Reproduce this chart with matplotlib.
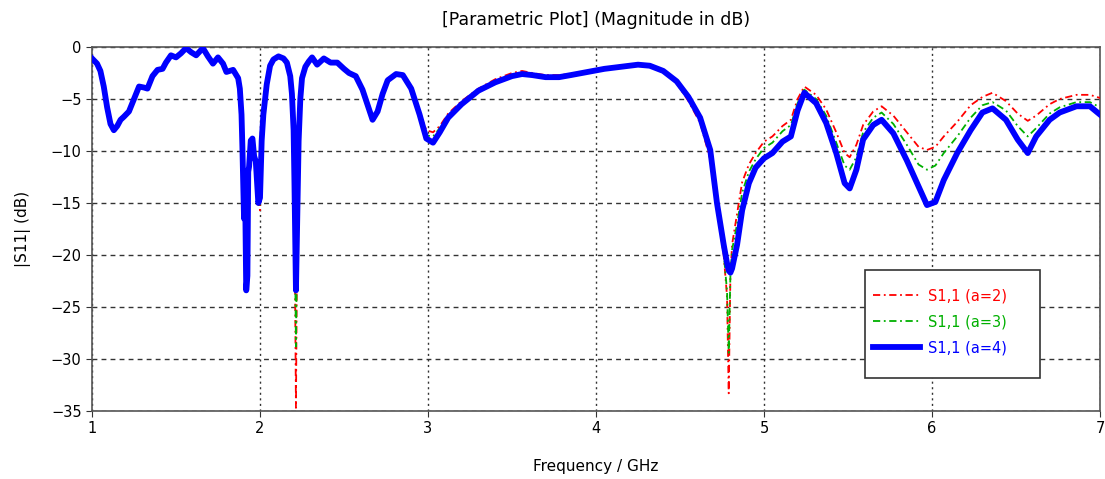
import matplotlib
matplotlib.use("Agg")
import matplotlib.pyplot as plt
from matplotlib.patches import Rectangle

freq = [1.00, 1.03, 1.05, 1.07, 1.09, 1.11, 1.13, 1.15, 1.17, 1.19,
        1.22, 1.25, 1.28, 1.31, 1.33, 1.36, 1.39, 1.42, 1.44, 1.47,
        1.50, 1.53, 1.56, 1.59, 1.62, 1.66, 1.69, 1.72, 1.75, 1.78,
        1.80, 1.84, 1.87, 1.88, 1.89, 1.895, 1.905, 1.91, 1.918, 1.925,
        1.93, 1.935, 1.945, 1.955, 1.965, 1.975, 1.99, 2.00, 2.01, 2.02,
        2.04, 2.06, 2.08, 2.11, 2.14, 2.16, 2.18, 2.19, 2.20, 2.205,
        2.214, 2.222, 2.23, 2.24, 2.25, 2.27, 2.29, 2.31, 2.34, 2.38,
        2.42, 2.46, 2.50, 2.53, 2.57, 2.61, 2.645, 2.67, 2.70, 2.73,
        2.76, 2.81, 2.85, 2.90, 2.95, 2.99, 3.03, 3.07, 3.12, 3.20,
        3.30, 3.40, 3.50, 3.56, 3.62, 3.70, 3.78, 3.85, 3.95, 4.05,
        4.15, 4.25, 4.32, 4.40, 4.48, 4.55, 4.62, 4.68, 4.72, 4.76,
        4.78, 4.79, 4.80, 4.81, 4.84, 4.87, 4.91, 4.95, 5.00, 5.05,
        5.11, 5.16, 5.20, 5.24, 5.31, 5.37, 5.43, 5.48, 5.51, 5.55,
        5.59, 5.65, 5.70, 5.77, 5.85, 5.92, 5.97, 6.02, 6.07, 6.15,
        6.23, 6.30, 6.36, 6.44, 6.51, 6.57, 6.62, 6.70, 6.76, 6.86,
        6.94, 7.00]

s11_a4 = [-1.1, -1.6, -2.3, -3.8, -5.8, -7.4, -8.0, -7.6, -7.0, -6.7,
          -6.2, -5.0, -3.8, -3.9, -4.0, -2.8, -2.2, -2.1, -1.5, -0.8,
          -1.0, -0.6, -0.1, -0.5, -0.8, -0.1, -0.9, -1.6, -1.0, -1.6,
          -2.4, -2.2, -3.0, -4.0, -6.5, -9.5, -16.5, -12.0, -23.4, -22.0,
          -12.0, -11.5, -9.0, -8.8, -10.5, -11.0, -15.0, -14.5, -9.0, -6.5,
          -3.6, -1.8, -1.2, -0.9, -1.1, -1.5, -2.8, -4.5, -8.0, -13.0,
          -23.4, -16.0, -9.0, -5.0, -3.0, -1.9, -1.4, -1.0, -1.7, -1.1,
          -1.5, -1.5, -2.1, -2.5, -2.8, -4.1, -5.8, -7.0, -6.2, -4.5,
          -3.2, -2.6, -2.7, -4.0, -6.5, -8.8, -9.2, -8.2, -6.8, -5.5,
          -4.2, -3.4, -2.8, -2.6, -2.7, -2.9, -2.9, -2.7, -2.4, -2.1,
          -1.9, -1.7, -1.8, -2.3, -3.3, -4.8, -6.8, -9.9, -15.0, -19.0,
          -20.8, -21.5, -21.7, -21.3, -19.0, -15.7, -13.1, -11.6, -10.7, -10.2,
          -9.1, -8.6, -6.1, -4.4, -5.4, -7.3, -10.2, -13.1, -13.6, -11.8,
          -8.9, -7.5, -7.0, -8.3, -10.9, -13.4, -15.2, -14.9, -12.8, -10.2,
          -8.0, -6.3, -5.9, -7.0, -8.9, -10.2, -8.6, -7.0, -6.3, -5.7,
          -5.7, -6.5]

s11_a3 = [-1.1, -1.6, -2.3, -3.8, -5.8, -7.4, -7.9, -7.5, -6.9, -6.6,
          -6.2, -5.0, -3.8, -3.9, -4.0, -2.8, -2.2, -2.1, -1.5, -0.8,
          -1.0, -0.6, -0.1, -0.5, -0.8, -0.1, -0.9, -1.6, -1.0, -1.6,
          -2.4, -2.2, -3.0, -4.0, -6.5, -9.5, -16.5, -12.0, -23.4, -22.0,
          -12.0, -11.5, -9.0, -8.8, -10.5, -11.0, -15.0, -15.3, -9.0, -6.5,
          -3.6, -1.8, -1.2, -0.9, -1.1, -1.5, -2.8, -4.5, -8.0, -14.0,
          -28.8, -16.0, -9.0, -5.0, -3.0, -1.9, -1.4, -1.0, -1.7, -1.1,
          -1.5, -1.5, -2.1, -2.5, -2.8, -4.1, -5.8, -7.0, -6.2, -4.5,
          -3.2, -2.6, -2.7, -4.0, -6.4, -8.5, -8.6, -7.8, -6.6, -5.4,
          -4.1, -3.3, -2.7, -2.5, -2.6, -2.8, -2.8, -2.7, -2.4, -2.1,
          -1.9, -1.7, -1.8, -2.3, -3.4, -5.0, -7.1, -10.5, -15.3, -19.8,
          -23.5, -29.4, -22.0, -19.5, -17.0, -14.0, -12.0, -10.8, -9.7, -9.2,
          -8.1, -7.5, -5.4, -4.1, -5.0, -6.6, -9.2, -11.4, -11.8, -10.6,
          -8.2, -6.8, -6.3, -7.4, -9.4, -11.3, -11.8, -11.4, -10.2, -8.6,
          -6.8, -5.6, -5.3, -6.1, -7.6, -8.6, -7.8, -6.4, -5.8, -5.3,
          -5.3, -5.8]

s11_a2 = [-1.1, -1.6, -2.3, -3.8, -5.8, -7.3, -7.8, -7.4, -6.8, -6.5,
          -6.1, -5.0, -3.8, -3.9, -4.0, -2.8, -2.2, -2.1, -1.5, -0.8,
          -1.0, -0.6, -0.1, -0.5, -0.8, -0.1, -0.9, -1.6, -1.0, -1.6,
          -2.4, -2.2, -3.0, -4.0, -6.5, -9.5, -16.5, -12.0, -23.4, -22.0,
          -12.0, -11.5, -9.0, -8.8, -10.5, -11.0, -15.0, -15.7, -9.0, -6.5,
          -3.6, -1.8, -1.2, -0.9, -1.1, -1.5, -2.8, -4.5, -8.0, -15.0,
          -34.7, -16.0, -9.0, -5.0, -3.0, -1.9, -1.4, -1.0, -1.7, -1.1,
          -1.5, -1.5, -2.1, -2.5, -2.8, -4.1, -5.8, -7.0, -6.2, -4.5,
          -3.2, -2.6, -2.7, -4.0, -6.3, -8.0, -8.2, -7.6, -6.4, -5.2,
          -4.0, -3.1, -2.5, -2.3, -2.5, -2.7, -2.7, -2.6, -2.3, -2.0,
          -1.8, -1.6, -1.8, -2.3, -3.5, -5.2, -7.3, -10.8, -15.5, -20.0,
          -24.0, -33.3, -22.0, -19.0, -16.0, -13.0, -11.3, -10.2, -9.1, -8.6,
          -7.6, -7.0, -5.0, -3.8, -4.6, -6.0, -8.2, -10.2, -10.6, -9.4,
          -7.5, -6.2, -5.7, -6.6, -8.2, -9.6, -9.9, -9.6, -8.6, -7.2,
          -5.6, -4.8, -4.4, -5.2, -6.4, -7.1, -6.6, -5.5, -5.0, -4.6,
          -4.6, -4.9]

labels = ["S1,1 (a=2)", "S1,1 (a=3)", "S1,1 (a=4)"]
colors = ["#ff0000", "#00b000", "#0000ff"]

x_ticks = [1, 2, 3, 4, 5, 6, 7]
y_ticks = [0, -5, -10, -15, -20, -25, -30, -35]

plt.rcParams['font.family'] = ['DejaVu Sans']

fig = plt.figure(figsize=(11.05, 4.79), dpi=100)
ax = fig.add_axes([92/1105, 1 - 411/479, 1008/1105, 364/479])

ax.plot(freq, s11_a2, color=colors[0], lw=1.3, dashes=[4, 2, 1, 2], label=labels[0], zorder=3)
ax.plot(freq, s11_a3, color=colors[1], lw=1.3, dashes=[4, 2, 1, 2], label=labels[1], zorder=3)
ax.plot(freq, s11_a4, color=colors[2], lw=4.2, solid_joinstyle='round', label=labels[2], zorder=4)

ax.set_xlim(1, 7)
ax.set_ylim(-35, 0)
ax.set_xticks(x_ticks)
ax.set_yticks(y_ticks)
ax.tick_params(labelsize=10.5, length=4, direction='out', color='#333333')

ax.grid(axis='x', color='#333333', linestyle=(0, (1.5, 2.5)), lw=1.0)
ax.grid(axis='y', color='#333333', linestyle=(0, (3.5, 3)), lw=1.0)
ax.set_axisbelow(True)
for s in ax.spines.values():
    s.set_color('#555555')
    s.set_linewidth(1.2)

ax.set_title("[Parametric Plot] (Magnitude in dB)", fontsize=12.5, pad=16)
ax.set_xlabel("Frequency / GHz", fontsize=11, labelpad=16)
ax.set_ylabel("|S11| (dB)", fontsize=11, labelpad=14)

# legend frame drawn explicitly to match the reference box
ax.add_patch(Rectangle((0.767, 0.09), 0.173, 0.297, transform=ax.transAxes,
                       facecolor='white', edgecolor='#333333', lw=1.2, zorder=6))
leg = ax.legend(loc='upper left', bbox_to_anchor=(0.775, 0.337),
                fontsize=10.5, frameon=False, borderpad=0, borderaxespad=0,
                handlelength=3.2, handletextpad=0.55, labelspacing=0.76)
leg.set_zorder(7)
for t, c in zip(leg.get_texts(), colors):
    t.set_color(c)

fig.savefig("out.png", dpi=100)
